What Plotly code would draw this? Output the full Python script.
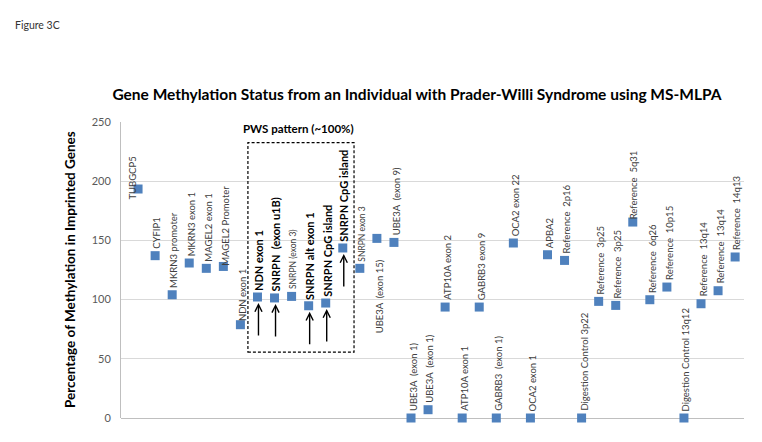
import plotly.graph_objects as go

# ---------------- data ----------------
probe_labels = [
    "TUBGCP5", "CYFIP1", "MKRN3 promoter", "MKRN3 exon 1", "MAGEL2 exon 1",
    "MAGEL2 Promoter", "NDN exon 1", "NDN exon 1", "SNRPN  (exon u1B)",
    "SNRPN (exon 3)", "SNRPN alt exon 1", "SNRPN CpG island", "SNRPN CpG island",
    "SNRPN exon 3", "UBE3A  (exon 15)", "UBE3A  (exon 9)", "UBE3A  (exon 1)",
    "UBE3A  (exon 1)", "ATP10A exon 2", "ATP10A exon 1", "GABRB3 exon 9",
    "GABRB3  (exon 1)", "OCA2 exon 22", "OCA2 exon 1", "APBA2", "Reference  2p16",
    "Digestion Control 3p22", "Reference  3p25", "Reference  3p25",
    "Reference  5q31", "Reference  6q26", "Reference  10p15",
    "Digestion Control 13q12", "Reference  13q14", "Reference  13q14",
    "Reference  14q13",
]
methylation_pct = [
    193.4, 137.1, 104.1, 130.9, 126.4, 128.0, 78.8, 102.2, 101.4, 102.7,
    94.8, 97.1, 143.6, 126.4, 151.7, 148.3, 0.0, 7.0, 93.7, 0.0,
    93.7, 0.0, 147.8, 0.0, 137.9, 133.1, 0.0, 98.5, 95.1, 165.5,
    99.9, 110.6, 0.0, 96.5, 107.5, 136.0,
]
probe_index = list(range(1, len(probe_labels) + 1))
pws_pattern_probes = [8, 9, 11, 12, 13]          # highlighted (bold + arrow)
small_label_probes = [10, 14]                    # smaller label text
y_ticks = [0, 50, 100, 150, 200, 250]

# ---------------- style ----------------
FONT = "Lato"
BLUE = "#4F81BD"
W, H = 754, 434          # page body has an 8px margin in the viewer
L, T = 113, 114
R, B = 18, 24
PW, PH = W - L - R, H - T - B

label_override = {  # probe -> (xshift, yshift, yanchor)
    1: (-6, -12, "bottom"),
    6: (2, 0, "bottom"),
    7: (2, 3, "bottom"),
    15: (2, -20, "top"),
    30: (1, 2, "bottom"),
}

fig = go.Figure()
fig.add_trace(go.Scatter(
    x=probe_index, y=methylation_pct, mode="markers",
    marker=dict(symbol="square", size=9, color=BLUE, line=dict(width=0)),
    cliponaxis=False, hoverinfo="text", text=probe_labels,
))

annotations = []
for i, lab, v in zip(probe_index, probe_labels, methylation_pct):
    txt = lab.replace("  ", "\u00a0 ")
    if i in pws_pattern_probes:
        font = dict(family=FONT, size=11, color="black", weight="bold")
        default = (1, 5, "bottom")
    elif i in small_label_probes:
        font = dict(family=FONT, size=8.5, color="#404040")
        default = (2, 6, "bottom")
    else:
        font = dict(family=FONT, size=9.5, color="#404040")
        default = (2, 6, "bottom")
    xs, ys, ya = label_override.get(i, default)
    annotations.append(dict(
        x=i, y=v, xref="x", yref="y", text=txt, showarrow=False,
        textangle=-90, xanchor="center", yanchor=ya, xshift=xs, yshift=ys,
        font=font, borderpad=0,
    ))
    if i in pws_pattern_probes:
        annotations.append(dict(
            x=i, y=v, xref="x", yref="y", text="", showarrow=True,
            ax=0, ay=40, axref="pixel", ayref="pixel", standoff=6,
            arrowhead=5, arrowsize=1.0, arrowwidth=1.4, arrowcolor="black",
            xshift=1,
        ))

annotations.append(dict(
    x=10.38, y=244.5, xref="x", yref="y", text="PWS pattern (~100%)",
    showarrow=False, font=dict(family=FONT, size=11.5, color="black", weight="bold"),
))
annotations.append(dict(
    x=0, y=0.5, xref="paper", yref="paper", xshift=-51, xanchor="center",
    yanchor="middle",
    text="Percentage of Methylation in Imprinted Genes", textangle=-90,
    showarrow=False, font=dict(family=FONT, size=13.5, color="black", weight="bold"),
))
annotations.append(dict(
    x=(29 - L) / PW, y=(T + PH - 17) / PH, xref="paper", yref="paper",
    xanchor="center", yanchor="middle", text="Figure 3C", showarrow=False,
    font=dict(family=FONT, size=10.5, color="#333333"),
))

fig.update_layout(
    width=W, height=H,
    margin=dict(l=L, r=R, t=T, b=B),
    plot_bgcolor="white", paper_bgcolor="white",
    showlegend=False,
    title=dict(
        text="Gene Methylation Status from an Individual with Prader-Willi Syndrome using MS-MLPA",
        x=409 / W, xanchor="center", y=1 - 87 / H, yanchor="middle",
        font=dict(family=FONT, size=15.5, color="black", weight="bold"),
    ),
    xaxis=dict(range=[0, 36.52], visible=False, showgrid=False, zeroline=False),
    yaxis=dict(
        range=[0, 250], tickvals=y_ticks, showgrid=True, gridcolor="#d9d9d9",
        gridwidth=1, zeroline=True, zerolinecolor="#bfbfbf", zerolinewidth=1,
        showline=True, linecolor="#bfbfbf", linewidth=1, ticks="",
        ticklabelstandoff=7,
        tickfont=dict(family=FONT, size=11, color="#595959"),
    ),
    shapes=[dict(
        type="rect", xref="x", yref="y", x0=7.44, x1=13.66, y0=55.6, y1=232.5,
        line=dict(color="black", width=1.2, dash="3px,2px"), fillcolor="rgba(0,0,0,0)",
    )],
    annotations=annotations,
)

fig.write_html("out.html")
